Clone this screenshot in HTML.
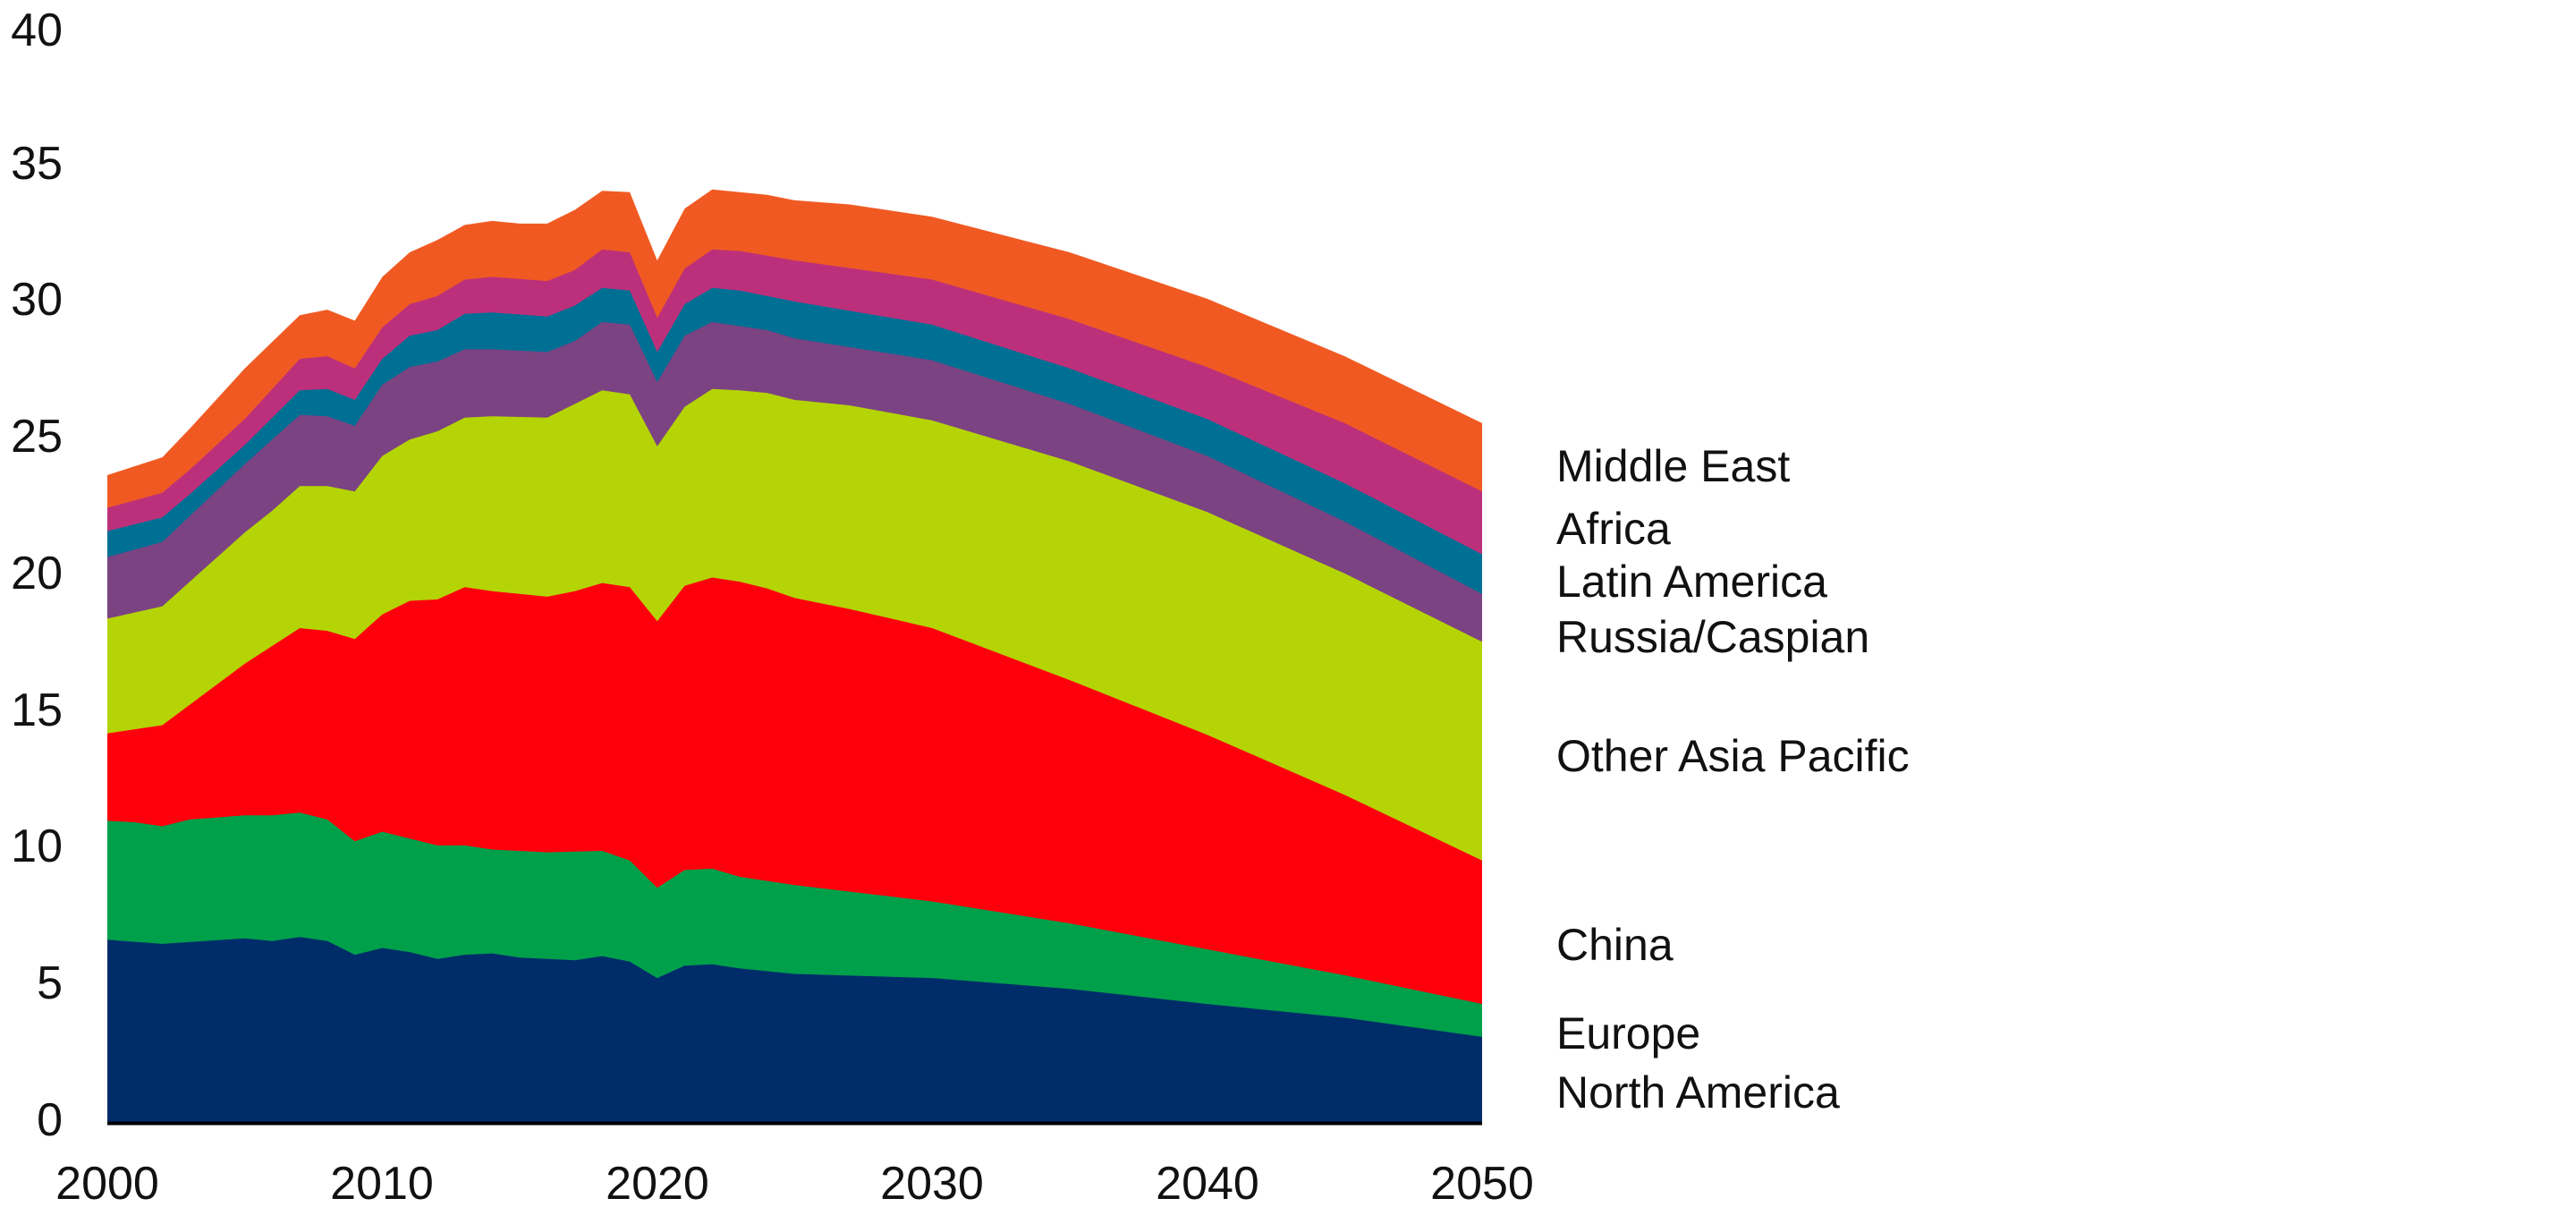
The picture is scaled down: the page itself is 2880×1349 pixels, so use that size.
<!DOCTYPE html>
<html><head><meta charset="utf-8"><style>
html,body{margin:0;padding:0;background:#fff;width:2880px;height:1349px;overflow:hidden}
svg{display:block}
text{font-family:"Liberation Sans",sans-serif;fill:#111}
</style></head><body>
<svg id="s" width="2880" height="1349" xmlns="http://www.w3.org/2000/svg">
<g id="areas"></g>
<line x1="120" y1="1255.5" x2="1657" y2="1255.5" stroke="#000" stroke-width="4"/>
<g font-size="52" text-anchor="end">
<text x="70" y="1269">0</text><text x="70" y="1116">5</text><text x="70" y="963">10</text>
<text x="70" y="811">15</text><text x="70" y="658">20</text><text x="70" y="505">25</text>
<text x="70" y="352">30</text><text x="70" y="200">35</text><text x="70" y="51">40</text>
</g>
<g font-size="52" text-anchor="middle">
<text x="120" y="1340">2000</text><text x="427" y="1340">2010</text><text x="735" y="1340">2020</text>
<text x="1042" y="1340">2030</text><text x="1350" y="1340">2040</text><text x="1657" y="1340">2050</text>
</g>
<g font-size="50">
<text x="1740" y="538">Middle East</text>
<text x="1740" y="608">Africa</text>
<text x="1740" y="667">Latin America</text>
<text x="1740" y="729">Russia/Caspian</text>
<text x="1740" y="862">Other Asia Pacific</text>
<text x="1740" y="1073">China</text>
<text x="1740" y="1172">Europe</text>
<text x="1740" y="1238">North America</text>
</g>
</svg>
<script>
function X(y){return 120+(y-2000)*30.74}
function Y(v){return 1255-30.55*v}
var S=[
["#002D6A",[[2000,6.7],[2002,6.55],[2005,6.75],[2006,6.65],[2007,6.8],[2008,6.65],[2009,6.15],[2010,6.4],[2011,6.25],[2012,6.0],[2013,6.15],[2014,6.2],[2015,6.05],[2017,5.95],[2018,6.1],[2019,5.9],[2020,5.3],[2021,5.75],[2022,5.8],[2023,5.65],[2025,5.45],[2030,5.3],[2035,4.9],[2040,4.35],[2045,3.85],[2050,3.15]]],
["#00A04A",[[2000,11.05],[2001,11.0],[2002,10.85],[2003,11.1],[2005,11.25],[2006,11.25],[2007,11.35],[2008,11.1],[2009,10.3],[2010,10.65],[2011,10.4],[2012,10.15],[2013,10.15],[2014,10.0],[2016,9.9],[2018,9.95],[2019,9.6],[2020,8.6],[2021,9.25],[2022,9.3],[2023,9.0],[2025,8.7],[2030,8.1],[2035,7.3],[2040,6.35],[2045,5.4],[2050,4.35]]],
["#FE000C",[[2000,14.25],[2002,14.55],[2003,15.3],[2005,16.8],[2007,18.1],[2008,18.0],[2009,17.7],[2010,18.6],[2011,19.1],[2012,19.15],[2013,19.6],[2014,19.45],[2016,19.25],[2017,19.45],[2018,19.75],[2019,19.6],[2020,18.35],[2021,19.65],[2022,19.95],[2023,19.8],[2024,19.55],[2025,19.2],[2027,18.8],[2030,18.1],[2035,16.2],[2040,14.2],[2045,12.0],[2050,9.6]]],
["#B5D406",[[2000,18.45],[2002,18.9],[2003,19.8],[2005,21.6],[2006,22.4],[2007,23.3],[2008,23.3],[2009,23.1],[2010,24.4],[2011,25.0],[2012,25.3],[2013,25.8],[2014,25.85],[2016,25.8],[2017,26.3],[2018,26.8],[2019,26.65],[2020,24.75],[2021,26.2],[2022,26.85],[2023,26.8],[2024,26.7],[2025,26.45],[2027,26.25],[2030,25.7],[2035,24.2],[2040,22.35],[2045,20.1],[2050,17.6]]],
["#7B4382",[[2000,20.7],[2002,21.25],[2003,22.2],[2005,24.1],[2007,25.9],[2008,25.85],[2009,25.5],[2010,27.0],[2011,27.65],[2012,27.85],[2013,28.3],[2014,28.3],[2016,28.2],[2017,28.6],[2018,29.3],[2019,29.2],[2020,27.1],[2021,28.8],[2022,29.3],[2023,29.15],[2024,29.0],[2025,28.7],[2030,27.9],[2035,26.3],[2040,24.4],[2045,22.0],[2050,19.35]]],
["#006F94",[[2000,21.65],[2002,22.15],[2003,23.0],[2005,24.8],[2007,26.8],[2008,26.85],[2009,26.45],[2010,27.95],[2011,28.8],[2012,29.0],[2013,29.6],[2014,29.65],[2016,29.5],[2017,29.9],[2018,30.55],[2019,30.45],[2020,28.2],[2021,29.95],[2022,30.55],[2023,30.45],[2025,30.05],[2030,29.2],[2035,27.6],[2040,25.75],[2045,23.4],[2050,20.8]]],
["#BC307B",[[2000,22.5],[2002,23.05],[2003,23.9],[2005,25.75],[2007,27.95],[2008,28.05],[2009,27.6],[2010,29.1],[2011,29.95],[2012,30.25],[2013,30.85],[2014,30.95],[2016,30.8],[2017,31.2],[2018,31.95],[2019,31.85],[2020,29.45],[2021,31.25],[2022,31.95],[2023,31.9],[2025,31.55],[2030,30.85],[2035,29.4],[2040,27.65],[2045,25.6],[2050,23.1]]],
["#F05A22",[[2000,23.7],[2002,24.35],[2003,25.4],[2005,27.6],[2007,29.55],[2008,29.75],[2009,29.35],[2010,30.95],[2011,31.85],[2012,32.3],[2013,32.85],[2014,33.0],[2015,32.9],[2016,32.9],[2017,33.4],[2018,34.1],[2019,34.05],[2020,31.55],[2021,33.45],[2022,34.15],[2023,34.05],[2024,33.95],[2025,33.75],[2027,33.6],[2030,33.15],[2035,31.85],[2040,30.15],[2045,28.05],[2050,25.6]]]
];
var g=document.getElementById("areas"),h="";
for(var i=S.length-1;i>=0;i--){
 var p=S[i][1],d="M"+X(2000)+","+Y(0);
 p.forEach(function(q){d+=" L"+X(q[0]).toFixed(1)+","+Y(q[1]).toFixed(1)});
 d+=" L"+X(2050)+","+Y(0)+"Z";
 h+='<path d="'+d+'" fill="'+S[i][0]+'"/>';
}
g.innerHTML=h;
</script>
</body></html>
